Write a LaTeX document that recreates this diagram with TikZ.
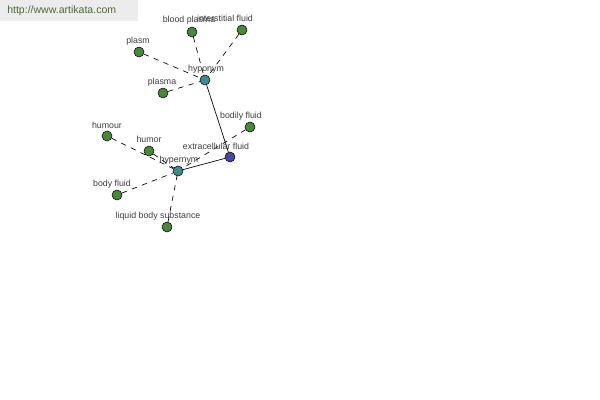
\documentclass[tikz,border=0pt]{standalone}
\usepackage{fontspec}
\setmainfont{Liberation Sans}
\usetikzlibrary{positioning,calc}
\definecolor{leafgreen}{RGB}{74,135,58}
\definecolor{hubteal}{RGB}{64,140,140}
\definecolor{rootblue}{RGB}{72,72,160}
\definecolor{labelgrey}{RGB}{60,60,60}
\definecolor{markgrey}{RGB}{236,236,236}
\definecolor{markgreen}{RGB}{78,104,58}
\tikzset{
  leaf/.style={circle,draw=black,fill=leafgreen,inner sep=0pt,minimum size=7.5},
  hub/.style={circle,draw=black,fill=hubteal,inner sep=0pt,minimum size=7.5},
  root/.style={circle,draw=black,fill=rootblue,inner sep=0pt,minimum size=7.5},
  word/.style={text=labelgrey,font=\fontsize{6.6}{7}\selectfont,inner sep=0pt},
  link/.style={dash pattern={on 4pt off 4pt},line width=0.5},
}
\begin{document}
\begin{tikzpicture}[x=0.75pt,y=0.75pt,yscale=-1,xscale=1]
\useasboundingbox (0,0) rectangle (600,400);

%Shape: watermark box
\fill [markgrey] (0,0) rectangle (138,21);
\node [text=markgreen,font=\fontsize{7.9}{8}\selectfont,anchor=west,inner sep=0pt] (site) at (7,11) {http://www.artikata.com};

% Circle nodes
\node [root] (extra) at (230,157) {};
\node [hub] (hypo) at (205,80) {};
\node [hub] (hyper) at (178,171) {};

\node [leaf] (blood) at (192,32) {};
\node [leaf] (inter) at (242,30) {};
\node [leaf] (plasm) at (139,52) {};
\node [leaf] (plasma) at (163,93) {};

\node [leaf] (bodily) at (250,127) {};
\node [leaf] (humour) at (107,136) {};
\node [leaf] (humor) at (149,151) {};
\node [leaf] (bodyfl) at (117,195) {};
\node [leaf] (liquid) at (167,227) {};

%Straight Lines
\draw [line width=0.5] (hypo) -- (extra);
\draw [line width=0.5] (extra) -- (hyper);
\draw [link] (blood) -- (hypo);
\draw [link] (inter) -- (hypo);
\draw [link] (plasm) -- (hypo);
\draw [link] (plasma) -- (hypo);
\draw [link] (bodily) -- (hyper);
\draw [link] (humour) -- (hyper);
\draw [link] (humor) -- (hyper);
\draw [link] (bodyfl) -- (hyper);
\draw [link] (liquid) -- (hyper);

% Text Node
\node [word] (t-extra) at (216,146) {extracellular fluid};
\node [word] (t-hypo) at (206,69) {hyponym};
\node [word] (t-hyper) at (179,160) {hypernym};
\node [word] (t-blood) at (189,20) {blood plasma};
\node [word] (t-inter) at (225,18) {interstitial fluid};
\node [word] (t-plasm) at (138,41) {plasm};
\node [word] (t-plasma) at (162,82) {plasma};
\node [word] (t-bodily) at (241,116) {bodily fluid};
\node [word] (t-humour) at (107,125) {humour};
\node [word] (t-humor) at (149,139) {humor};
\node [word] (t-bodyfl) at (112,184) {body fluid};
\node [word] (t-liquid) at (158,216) {liquid body substance};

\end{tikzpicture}
\end{document}
